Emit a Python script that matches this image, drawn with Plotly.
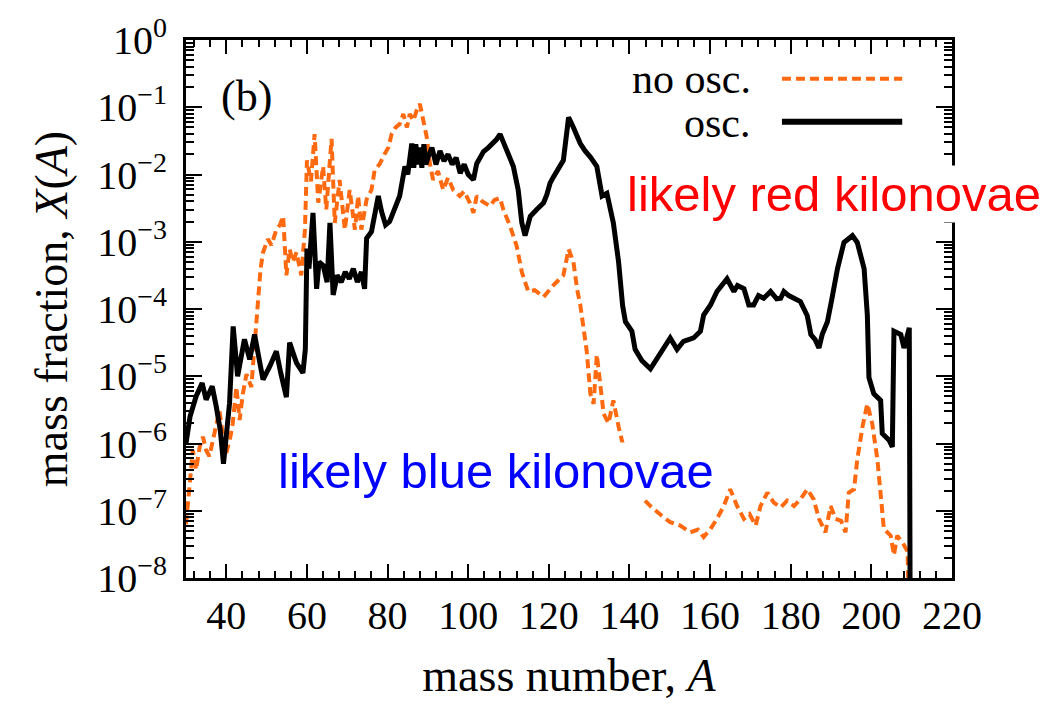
import plotly.graph_objects as go

# ---------------- data ----------------
# "osc." (black solid): mass number A and log10 of mass fraction X(A)
A_osc = [30, 31, 32.5, 34, 35, 36.5, 37.5, 38.5, 39.3, 40, 40.8, 41.7, 42.8, 44.5, 45.8, 47, 48, 49.1,
         50.8, 52.4, 53.5, 54.9, 55.7, 57.4, 59, 59.6, 60, 60.5, 61.5, 62.4, 63, 64, 65, 65.7, 66.5,
         67.5, 68.5, 69.5, 70.5, 71.5, 72.5, 73.5, 74.3, 74.8, 76, 77.7, 78.5, 79.5, 80.5, 82, 83,
         84.3, 85, 86, 86.5, 87, 87.5, 88, 88.5, 89, 89.5, 90, 91, 92, 93, 94, 95, 96, 97, 98, 99,
         100, 101.3, 102.1, 103, 103.8, 105, 106.2, 107, 107.9, 109.1, 110, 111.2, 112.4, 113.3,
         114.1, 115.4, 117, 118.7, 119.5, 120.3, 121, 122, 123, 123.6, 124.9, 126.1, 127, 127.8, 129,
         130.3, 131.9, 133.2, 134.4, 136, 137.3, 138.3, 139, 140.6, 141.4, 143.1, 145.2, 146.8, 148.5,
         150.1, 151.8, 153.4, 155.9, 157.6, 158.4, 160.1, 161.7, 164.2, 165.9, 166.8, 168.4, 169.6,
         170.8, 172, 173.3, 175, 176.5, 177.5, 178.3, 179.5, 180.8, 182.4, 184.1, 185, 186, 187,
         187.8, 189.1, 190.2, 191.6, 193.2, 195.3, 196.5, 198.2, 199, 199.4, 200.6, 202.3, 202.7,
         204.4, 205.2, 205.6, 207.3, 208.1, 209.4, 209.7]
logX_osc = [-6.0, -5.6, -5.3, -5.1, -5.35, -5.15, -5.45, -5.8, -6.3, -5.8, -5.4, -4.26, -5.0, -4.45,
            -4.75, -4.38, -4.7, -5.05, -4.85, -4.63, -4.95, -5.31, -4.5, -4.8, -4.95, -4.6, -3.1,
            -3.4, -2.57, -3.7, -3.3, -3.35, -3.6, -2.72, -3.79, -3.5, -3.6, -3.45, -3.55, -3.4, -3.6,
            -3.45, -3.7, -2.95, -2.85, -2.32, -2.55, -2.75, -2.7, -2.45, -2.32, -1.88, -2.0, -1.54,
            -1.9, -1.55, -1.85, -1.6, -1.9, -1.55, -1.85, -1.75, -1.6, -1.85, -1.65, -1.8, -1.7,
            -1.85, -1.75, -1.98, -1.85, -2.0, -2.08, -1.84, -1.75, -1.66, -1.6, -1.54, -1.48, -1.40,
            -1.59, -1.72, -1.88, -2.23, -2.72, -2.91, -2.62, -2.52, -2.42, -2.3, -2.13, -2.05, -1.93,
            -1.85, -1.79, -1.15, -1.30, -1.45, -1.54, -1.65, -1.74, -1.88, -2.32, -2.28, -2.72, -3.30,
            -3.95, -4.19, -4.33, -4.60, -4.77, -4.89, -4.75, -4.58, -4.43, -4.60, -4.48, -4.43, -4.33,
            -4.09, -3.94, -3.74, -3.55, -3.74, -3.65, -3.70, -3.94, -3.94, -3.8, -3.84, -3.74, -3.85,
            -3.84, -3.74, -3.8, -3.84, -3.89, -4.1, -4.38, -4.45, -4.58, -4.38, -4.19, -3.85, -3.40,
            -3.01, -2.91, -3.01, -3.40, -4.09, -5.02, -5.26, -5.36, -5.85, -5.95, -6.05, -4.33, -4.38,
            -4.58, -4.28, -10.0]

# "no osc." (orange dashed)
A_noosc = [30, 30.5, 31.2, 31.7, 32.5, 33.4, 34.2, 35, 35.8, 37.1, 38.3, 39.2, 40, 41, 41.6, 42.5,
           43.3, 44.1, 45, 46.2, 47, 47.9, 48.5, 49.1, 50.3, 51.2, 52.4, 53.3, 54.1, 54.9, 55.7,
           56.5, 57.4, 58.6, 59.5, 60, 61, 61.9, 62.8, 64, 64.8, 66.1, 66.9, 68.1, 69.4, 70.6, 71.9,
           72.7, 73.5, 74.8, 76, 76.8, 78, 79.3, 80.2, 81, 82, 83, 83.9, 84.8, 85.5, 86.4, 87.2, 88,
           88.8, 89.7, 90.5, 91.3, 92.5, 93.8, 95, 96.3, 97.9, 99, 100.4, 101.3, 102.1, 103.5, 105.4,
           106.5, 107.9, 108.7, 110.4, 112, 113.3, 114.9, 116.5, 118.7, 121.1, 123.6, 124.9, 126.1,
           127, 127.8, 128.6, 129.4, 130.3, 131.1, 131.9, 132.8, 133.6, 134.8, 136, 137.3, 138.5,
           140.5, 142.7, 145.2, 146.8, 148.5, 150.1, 152.6, 155.1, 157, 158.4, 160.1, 161.7, 163.4,
           165, 166.7, 168.4, 169.8, 171.3, 172.5, 174.2, 175.8, 177.5, 179.1, 180.8, 182.4, 184.1,
           185.7, 187, 188.6, 189.9, 191.1, 192.5, 193.6, 194.4, 195.7, 196.5, 197.8, 199, 200.2,
           201.5, 203.1, 204.8, 205.6, 206.4, 208.1, 209, 209.4]
logX_noosc = [-7.2, -6.9, -6.5, -6.1, -6.39, -6.05, -5.9, -6.1, -6.19, -5.85, -5.51, -5.9, -6.14,
              -5.9, -5.70, -5.16, -5.65, -5.26, -4.97, -5.16, -4.58, -3.89, -3.4, -3.16, -2.96, -3.05,
              -2.82, -2.75, -2.62, -3.50, -3.11, -3.3, -3.16, -3.50, -2.82, -1.79, -2.1, -1.40, -2.42,
              -1.88, -2.52, -1.47, -2.72, -2.08, -2.82, -2.23, -2.82, -2.32, -2.82, -2.37, -2.23,
              -1.93, -1.85, -1.69, -1.6, -1.40, -1.3, -1.25, -1.10, -1.3, -1.1, -1.20, -1.05, -0.95,
              -1.2, -1.44, -1.84, -2.08, -1.95, -2.23, -2.05, -2.23, -2.32, -2.25, -2.42, -2.57, -2.32,
              -2.4, -2.47, -2.38, -2.35, -2.52, -2.77, -3.06, -3.45, -3.74, -3.72, -3.82, -3.65, -3.50,
              -3.11, -3.30, -3.70, -3.94, -4.28, -4.63, -5.26, -5.41, -4.68, -5.1, -5.56, -5.70, -5.36,
              -5.75, -6.05, -6.45, -6.78, -6.93, -7.02, -7.1, -7.17, -7.22, -7.32, -7.28, -7.39, -7.27,
              -7.12, -6.93, -6.68, -6.93, -7.12, -7.05, -7.22, -6.93, -6.73, -6.88, -6.95, -6.85, -6.93,
              -6.83, -6.68, -6.83, -7.12, -7.32, -6.93, -7.12, -7.15, -7.32, -6.73, -6.68, -6.24, -5.75,
              -5.41, -5.70, -6.24, -7.27, -7.37, -7.66, -7.37, -7.51, -7.61, -9.0]

x_tick_vals = [40, 60, 80, 100, 120, 140, 160, 180, 200, 220]
y_exponents = [0, -1, -2, -3, -4, -5, -6, -7, -8]

X_osc = [10 ** v for v in logX_osc]
X_noosc = [10 ** v for v in logX_noosc]

ORANGE = "#ff6a10"
SERIF = "Liberation Serif"
SANS = "Liberation Sans"

fig = go.Figure()
fig.add_trace(go.Scatter(x=A_noosc, y=X_noosc, mode="lines", name="no osc.",
                         line=dict(color=ORANGE, width=4, dash="9px,5px")))
fig.add_trace(go.Scatter(x=A_osc, y=X_osc, mode="lines", name="osc.",
                         line=dict(color="black", width=5)))

fig.update_layout(
    width=1048, height=704,
    margin=dict(l=186, r=96, t=35, b=124),
    plot_bgcolor="white", paper_bgcolor="white",
    showlegend=False,
    font=dict(family=SERIF, size=40, color="black"),
)

fig.update_xaxes(
    range=[30, 220], tickmode="array", tickvals=x_tick_vals,
    ticks="inside", ticklen=14, tickwidth=2, tickcolor="black",
    minor=dict(dtick=4, tick0=0, ticks="inside", ticklen=7, tickwidth=1.5, tickcolor="black"),
    showline=True, linewidth=3, linecolor="black", mirror="allticks",
    showgrid=False, zeroline=False,
    tickfont=dict(family=SERIF, size=40),
    title=dict(text="mass number, <i>A</i>", font=dict(family=SERIF, size=46), standoff=22),
)

fig.update_yaxes(
    type="log", range=[-8, 0],
    tickmode="array", tickvals=[10 ** e for e in y_exponents],
    ticktext=["10<sup>%s</sup>" % (str(e).replace("-", "\u2212")) for e in y_exponents],
    ticks="inside", ticklen=16, tickwidth=2, tickcolor="black",
    minor=dict(dtick="D1", ticks="inside", ticklen=8, tickwidth=1.5, tickcolor="black"),
    showline=True, linewidth=3, linecolor="black", mirror="allticks",
    showgrid=False, zeroline=False,
    tickfont=dict(family=SERIF, size=40),
    ticklabelstandoff=8,
    title=dict(text="mass fraction, <i>X</i>(<i>A</i>)", font=dict(family=SERIF, size=46), standoff=16),
)

# legend drawn to mimic gnuplot key (text with the sample line to its right)
fig.add_annotation(x=0.740, y=0.927, xref="paper", yref="paper", text="no osc.",
                   showarrow=False, xanchor="right", yanchor="middle",
                   font=dict(family=SERIF, size=42, color="black"))
fig.add_annotation(x=0.740, y=0.846, xref="paper", yref="paper", text="osc.",
                   showarrow=False, xanchor="right", yanchor="middle",
                   font=dict(family=SERIF, size=42, color="black"))
fig.add_shape(type="line", xref="paper", yref="paper", x0=0.778, x1=0.935, y0=0.928, y1=0.928,
              line=dict(color=ORANGE, width=4, dash="9px,5px"))
fig.add_shape(type="line", xref="paper", yref="paper", x0=0.778, x1=0.935, y0=0.848, y1=0.848,
              line=dict(color="black", width=6))

fig.add_annotation(x=0.0792, y=0.895, xref="paper", yref="paper", text="(b)",
                   showarrow=False, xanchor="center", yanchor="middle",
                   font=dict(family=SERIF, size=44, color="black"))

fig.add_annotation(x=0.846, y=0.714, xref="paper", yref="paper", text="likely red kilonovae",
                   showarrow=False, xanchor="center", yanchor="middle", bgcolor="white",
                   font=dict(family=SANS, size=49, color="#ff0000"))
fig.add_annotation(x=0.405, y=0.198, xref="paper", yref="paper", text="likely blue kilonovae",
                   showarrow=False, xanchor="center", yanchor="middle", bgcolor="white",
                   font=dict(family=SANS, size=49, color="#0000ff"))

fig.write_html("out.html")
